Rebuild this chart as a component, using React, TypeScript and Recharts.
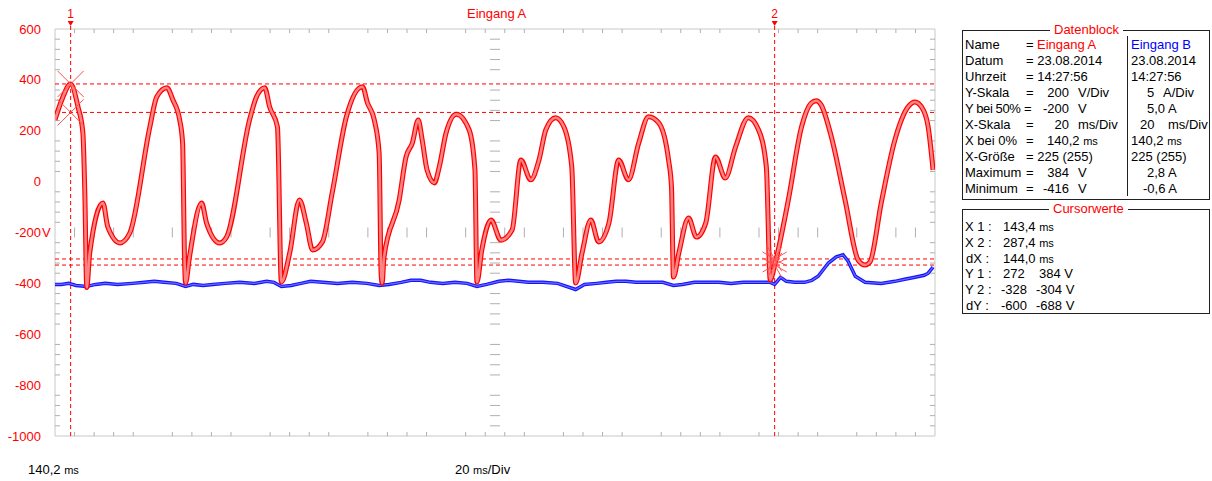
import React from "react";
import {
  ComposedChart,
  Line,
  XAxis,
  YAxis,
  CartesianGrid,
  ReferenceLine,
  ReferenceDot,
} from "recharts";

// axis ticks
const xTicks = [140.2, 160.2, 180.2, 200.2, 220.2, 240.2, 260.2, 280.2, 300.2, 320.2];
const yTicks = [600, 400, 200, 0, -200, -400, -600, -800, -1000];

// Eingang A (V)
const redTime = [
  140.2, 141.6, 143.4, 144.9, 145.9, 146.3, 146.7, 147.3, 150.0, 151.0, 153.5, 155.5,
  159.6, 161.0, 163.1, 164.3, 165.7, 166.3, 166.7, 166.9, 167.7, 170.2, 171.2, 173.9,
  175.3, 180.0, 181.4, 183.1, 184.1, 185.7, 186.5, 188.2, 190.2, 191.6, 192.9, 194.9,
  196.9, 199.8, 203.1, 204.1, 205.5, 206.5, 206.9, 207.1, 207.5, 210.6, 212.0, 213.3,
  214.5, 215.3, 216.3, 217.8, 218.8, 220.2, 222.3, 224.9, 226.1, 226.5, 227.5, 229.4,
  231.4, 233.7, 235.5, 237.5, 239.2, 240.6, 242.6, 244.3, 245.9, 246.7, 248.0, 249.8,
  251.4, 253.5, 255.5, 257.5, 259.6, 261.6, 263.7, 265.7, 266.3, 266.7, 267.8, 269.8,
  271.4, 273.3, 275.3, 277.3, 279.4, 282.0, 284.1, 285.7, 286.5, 287.4, 290.2, 292.9,
  294.9, 295.9, 296.9, 299.0, 301.8, 304.5, 305.9, 306.9, 309.2, 312.0, 314.7, 316.1,
  317.8, 318.8, 319.8,
];
const redVolt = [
  243, 322, 384, 294, 192, -44, -416, -281, -84, -178, -241, -202,
  215, 333, 369, 322, 243, 152, -309, -399, -297, -84, -163, -241,
  -218, 243, 333, 369, 294, 215, -395, -281, -72, -163, -269, -237,
  -44, 255, 373, 310, 243, 113, -359, -399, -297, -72, 97, 152,
  242, 164, 46, -5, 58, 192, 265, 204, 46, -395, -269, -151,
  -230, -190, 85, 7, 85, 204, 251, 215, 58, -399, -281, -151,
  -237, -163, 85, 7, 152, 255, 231, 85, -21, -375, -281, -143,
  -218, -163, 97, 14, 136, 251, 204, 58, -387, -328, -72, 215,
  309, 318, 302, 176, -72, -309, -328, -316, -84, 164, 294, 313,
  282, 215, 46,
];

// Eingang B (A)
const blueTime = [
  140.2, 141.5, 143.0, 144.5, 146.7, 148.5, 150.5, 153.0, 156.0, 158.5, 160.5, 162.5,
  165.0, 166.9, 168.5, 170.5, 172.5, 175.0, 178.0, 181.0, 183.5, 185.0, 186.5, 188.5,
  190.5, 192.5, 195.0, 198.0, 201.0, 204.0, 206.5, 208.5, 211.0, 213.0, 215.0, 217.0,
  219.5, 222.0, 224.5, 226.5, 228.5, 231.0, 233.0, 235.0, 237.0, 240.0, 243.0, 246.7,
  248.5, 251.0, 253.0, 255.0, 257.0, 259.0, 262.0, 264.5, 266.7, 268.5, 271.0, 273.5,
  276.0, 278.5, 281.0, 284.0, 286.5, 287.4, 288.6, 289.8, 291.5, 293.5, 295.0, 296.3,
  298.4, 300.0, 301.4, 302.4, 303.9, 305.9, 309.2, 312.0, 314.0, 316.1, 318.0, 318.8,
  319.8,
];
const blueAmp = [
  -0.1, -0.1, 0.0, -0.2, -0.3, -0.1, 0.0, -0.1, 0.0, 0.1, 0.2, 0.1,
  0.0, -0.3, -0.1, -0.2, -0.1, 0.0, 0.1, 0.0, 0.2, 0.1, -0.3, -0.2,
  0.0, 0.2, 0.1, 0.0, 0.1, 0.0, -0.2, -0.1, 0.1, 0.3, 0.3, 0.1,
  0.0, 0.1, 0.0, -0.3, -0.1, 0.2, 0.3, 0.2, 0.1, 0.1, 0.0, -0.6,
  -0.1, 0.0, 0.1, 0.2, 0.2, 0.1, 0.1, 0.1, -0.2, -0.1, 0.1, 0.1,
  0.1, 0.0, 0.1, 0.1, 0.1, -0.1, 0.6, 0.2, 0.1, 0.1, 0.3, 0.7,
  2.0, 2.6, 2.8, 2.2, 0.7, 0.1, 0.0, 0.2, 0.4, 0.6, 0.8, 1.0,
  1.6,
];

// cursors
const cursorTimes = [143.4, 287.4];
const cursor1Levels = [384, 272];
const cursor2Levels = [-304, -328];

const redData = redTime.map((t, i) => ({ t, v: redVolt[i] }));
const blueData = blueTime.map((t, i) => ({ t, a: blueAmp[i] }));

// minor tick marks (1/5 division)
const pxX = 20 / 98;
const pxY = 200 / 50.8;
const minorX: number[] = [];
for (let i = 1; i < 45; i++) if (i % 5 !== 0) minorX.push(140.2 + i * 4);
const minorY: number[] = [];
for (let i = 1; i < 40; i++) if (i % 5 !== 0) minorY.push(-1000 + i * 40);
type Seg = [number, number, number, number];
const segs: Seg[] = [
  ...minorX.map((t) => [t, 600, t, 600 - 4 * pxY] as Seg),
  ...minorX.map((t) => [t, -1000, t, -1000 + 4 * pxY] as Seg),
  ...minorX.map((t) => [t, -200 - 5 * pxY, t, -200 + 5 * pxY] as Seg),
  ...minorY.map((v) => [140.2, v, 140.2 + 5 * pxX, v] as Seg),
  ...minorY.map((v) => [320.2 - 5 * pxX, v, 320.2, v] as Seg),
  ...minorY.map((v) => [230.2 - 5 * pxX, v, 230.2 + 5 * pxX, v] as Seg),
];

const RED = "#ff0000";
const FONT = "'Liberation Sans', Arial, sans-serif";

const YTick = (props: any) => {
  const { x, y, payload } = props;
  return (
    <g>
      <text x={x} y={y} dy="0.35em" textAnchor="end" fill={RED} fontSize={13} fontFamily={FONT}>
        {payload.value}
      </text>
      {payload.value === -200 && (
        <text x={x + 1} y={y} dy="0.35em" fill={RED} fontSize={13} fontFamily={FONT}>
          V
        </text>
      )}
    </g>
  );
};

// number + arrow above a vertical cursor
const cursorLabel = (n: string) => (props: any) => {
  const vb = props.viewBox || {};
  const x = vb.x;
  const y = vb.y;
  return (
    <g>
      <text x={x} y={y - 11} textAnchor="middle" fill={RED} fontSize={12} fontFamily={FONT}>
        {n}
      </text>
      <path d={`M${x - 3},${y - 8} L${x + 3},${y - 8} L${x},${y - 3} Z`} fill={RED} />
      <line x1={x} x2={x} y1={y - 3} y2={y} stroke={RED} />
    </g>
  );
};

const StarX = (props: any) => {
  const { cx, cy } = props;
  const d = 13;
  return (
    <g stroke="#ff5050" strokeWidth={1} fill="none">
      <line x1={cx - d} y1={cy - d} x2={cx + d} y2={cy + d} />
      <line x1={cx + d} y1={cy - d} x2={cx - d} y2={cy + d} />
    </g>
  );
};

const StarBurst = (props: any) => {
  const { cx, cy } = props;
  const r = 14;
  const angles = [30, 60, 120, 150, 210, 240, 300, 330];
  return (
    <g stroke="#ff5050" strokeWidth={1}>
      {angles.map((a) => (
        <line
          key={a}
          x1={cx}
          y1={cy}
          x2={cx + r * Math.cos((a * Math.PI) / 180)}
          y2={cy + r * Math.sin((a * Math.PI) / 180)}
        />
      ))}
    </g>
  );
};

const Txt = ({
  x,
  y,
  children,
  color = "#000",
  end = false,
  tight = false,
}: {
  x: number;
  y: number;
  children: React.ReactNode;
  color?: string;
  end?: boolean;
  tight?: boolean;
}) => (
  <div
    style={{
      position: "absolute",
      left: end ? undefined : x,
      right: end ? 1212 - x : undefined,
      top: y - 8,
      lineHeight: "16px",
      fontSize: 13,
      letterSpacing: tight ? -0.4 : undefined,
      color,
      whiteSpace: "nowrap",
    }}
  >
    {children}
  </div>
);

const Ms = () => <span style={{ fontSize: 11 }}>ms</span>;

const rowY = (i: number) => 45 + i * 16;
const cRowY = (i: number) => 227 + i * 15.8;

export default function App() {
  return (
    <div
      style={{
        position: "absolute",
        left: 0,
        top: 0,
        width: 1212,
        height: 481,
        background: "#fff",
        fontFamily: FONT,
        overflow: "hidden",
      }}
    >
      <div style={{ position: "absolute", left: 0, top: 0 }}>
        <ComposedChart
          width={948}
          height={481}
          margin={{ top: 29, right: 13, bottom: 44, left: 0 }}
        >
          <CartesianGrid stroke="#c8c8c8" strokeWidth={1} />
          <XAxis
            xAxisId={0}
            dataKey="t"
            type="number"
            domain={[140.2, 320.2]}
            ticks={xTicks}
            interval={0}
            allowDataOverflow
            tick={false}
            tickLine={false}
            axisLine={false}
            height={1}
          />
          <YAxis
            yAxisId="A"
            type="number"
            domain={[-1000, 600]}
            ticks={yTicks}
            interval={0}
            allowDataOverflow
            width={55}
            axisLine={false}
            tickLine={false}
            tickSize={0}
            tickMargin={14}
            tick={<YTick />}
          />
          <YAxis yAxisId="B" type="number" domain={[-15, 25]} allowDataOverflow hide />

          {segs.map((s, i) => (
            <ReferenceLine
              key={`s${i}`}
              yAxisId="A"
              segment={[
                { x: s[0], y: s[1] },
                { x: s[2], y: s[3] },
              ]}
              stroke="#b0b0b0"
              strokeWidth={1}
              ifOverflow="visible"
            />
          ))}

          {cursor1Levels.concat(cursor2Levels).map((v) => (
            <ReferenceLine
              key={`h${v}`}
              yAxisId="A"
              y={v}
              stroke={RED}
              strokeDasharray="4 3"
              strokeWidth={1}
            />
          ))}
          {cursorTimes.map((t, i) => (
            <ReferenceLine
              key={`c${i}`}
              yAxisId="A"
              x={t}
              stroke={RED}
              strokeDasharray="4 3"
              strokeWidth={1}
              label={cursorLabel(String(i + 1))}
            />
          ))}

          <Line
            yAxisId="B"
            data={blueData}
            dataKey="a"
            type="linear"
            stroke="#1414ff"
            strokeWidth={3.5}
            dot={false}
            activeDot={false}
            isAnimationActive={false}
          />
          <Line
            yAxisId="B"
            data={blueData}
            dataKey="a"
            type="linear"
            stroke="#6a6aff"
            strokeWidth={1.2}
            dot={false}
            activeDot={false}
            isAnimationActive={false}
          />
          <Line
            yAxisId="A"
            data={redData}
            dataKey="v"
            type="monotone"
            stroke={RED}
            strokeWidth={5}
            dot={false}
            activeDot={false}
            isAnimationActive={false}
          />
          <Line
            yAxisId="A"
            data={redData}
            dataKey="v"
            type="monotone"
            stroke="#ff8484"
            strokeWidth={2.6}
            dot={false}
            activeDot={false}
            isAnimationActive={false}
          />

          {cursor1Levels.map((v) => (
            <ReferenceDot
              key={`d1${v}`}
              yAxisId="A"
              x={cursorTimes[0]}
              y={v}
              r={10}
              ifOverflow="visible"
              shape={<StarX />}
            />
          ))}
          {cursor2Levels.map((v) => (
            <ReferenceDot
              key={`d2${v}`}
              yAxisId="A"
              x={cursorTimes[1]}
              y={v}
              r={10}
              ifOverflow="visible"
              shape={<StarBurst />}
            />
          ))}
        </ComposedChart>
      </div>

      {/* title */}
      <Txt x={467} y={14} color={RED}>
        Eingang A
      </Txt>

      {/* bottom labels */}
      <Txt x={28} y={470}>
        140,2 <Ms />
      </Txt>
      <Txt x={455} y={470}>
        20 <Ms />/Div
      </Txt>

      {/* Datenblock */}
      <div
        style={{
          position: "absolute",
          left: 962,
          top: 30,
          width: 246,
          height: 168,
          border: "1px solid #202020",
        }}
      />
      <div
        style={{
          position: "absolute",
          left: 1127,
          top: 36,
          width: 1,
          height: 160,
          background: "#202020",
        }}
      />
      <Txt x={1050} y={30} color={RED}>
        <span style={{ background: "#fff", padding: "0 4px" }}>Datenblock</span>
      </Txt>

      <Txt x={965} y={rowY(0)}>Name</Txt>
      <Txt x={1026} y={rowY(0)}>=</Txt>
      <Txt x={1037} y={rowY(0)} color={RED}>Eingang A</Txt>
      <Txt x={1131} y={rowY(0)} color="#0000ff">Eingang B</Txt>

      <Txt x={965} y={rowY(1)}>Datum</Txt>
      <Txt x={1026} y={rowY(1)}>= 23.08.2014</Txt>
      <Txt x={1131} y={rowY(1)}>23.08.2014</Txt>

      <Txt x={965} y={rowY(2)}>Uhrzeit</Txt>
      <Txt x={1026} y={rowY(2)}>= 14:27:56</Txt>
      <Txt x={1131} y={rowY(2)}>14:27:56</Txt>

      <Txt x={965} y={rowY(3)}>Y-Skala</Txt>
      <Txt x={1026} y={rowY(3)}>=</Txt>
      <Txt x={1069} y={rowY(3)} end>200</Txt>
      <Txt x={1078} y={rowY(3)}>V/Div</Txt>
      <Txt x={1147} y={rowY(3)}>5</Txt>
      <Txt x={1163} y={rowY(3)}>A/Div</Txt>

      <Txt x={965} y={rowY(4)} tight>Y bei 50%</Txt>
      <Txt x={1024} y={rowY(4)}>=</Txt>
      <Txt x={1069} y={rowY(4)} end>-200</Txt>
      <Txt x={1078} y={rowY(4)}>V</Txt>
      <Txt x={1147} y={rowY(4)}>5,0 A</Txt>

      <Txt x={965} y={rowY(5)}>X-Skala</Txt>
      <Txt x={1026} y={rowY(5)}>=</Txt>
      <Txt x={1069} y={rowY(5)} end>20</Txt>
      <Txt x={1078} y={rowY(5)}>ms/Div</Txt>
      <Txt x={1140} y={rowY(5)}>20</Txt>
      <Txt x={1168} y={rowY(5)}>ms/Div</Txt>

      <Txt x={965} y={rowY(6)}>X bei 0%</Txt>
      <Txt x={1026} y={rowY(6)}>=</Txt>
      <Txt x={1047} y={rowY(6)}>
        140,2 <Ms />
      </Txt>
      <Txt x={1131} y={rowY(6)}>
        140,2 <Ms />
      </Txt>

      <Txt x={965} y={rowY(7)}>X-Größe</Txt>
      <Txt x={1026} y={rowY(7)}>= 225 (255)</Txt>
      <Txt x={1131} y={rowY(7)}>225 (255)</Txt>

      <Txt x={965} y={rowY(8)}>Maximum</Txt>
      <Txt x={1026} y={rowY(8)}>=</Txt>
      <Txt x={1069} y={rowY(8)} end>384</Txt>
      <Txt x={1078} y={rowY(8)}>V</Txt>
      <Txt x={1147} y={rowY(8)}>2,8 A</Txt>

      <Txt x={965} y={rowY(9)}>Minimum</Txt>
      <Txt x={1026} y={rowY(9)}>=</Txt>
      <Txt x={1069} y={rowY(9)} end>-416</Txt>
      <Txt x={1078} y={rowY(9)}>V</Txt>
      <Txt x={1143} y={rowY(9)}>-0,6 A</Txt>

      {/* Cursorwerte */}
      <div
        style={{
          position: "absolute",
          left: 962,
          top: 209,
          width: 246,
          height: 103,
          border: "1px solid #202020",
        }}
      />
      <Txt x={1049} y={209} color={RED}>
        <span style={{ background: "#fff", padding: "0 4px" }}>Cursorwerte</span>
      </Txt>

      <Txt x={965} y={cRowY(0)}>X 1 :</Txt>
      <Txt x={1003} y={cRowY(0)}>
        143,4 <Ms />
      </Txt>
      <Txt x={965} y={cRowY(1)}>X 2 :</Txt>
      <Txt x={1003} y={cRowY(1)}>
        287,4 <Ms />
      </Txt>
      <Txt x={966} y={cRowY(2)}>dX :</Txt>
      <Txt x={1003} y={cRowY(2)}>
        144,0 <Ms />
      </Txt>
      <Txt x={965} y={cRowY(3)}>Y 1 :</Txt>
      <Txt x={1003} y={cRowY(3)}>272</Txt>
      <Txt x={1039} y={cRowY(3)}>384 V</Txt>
      <Txt x={965} y={cRowY(4)}>Y 2 :</Txt>
      <Txt x={1001} y={cRowY(4)}>-328</Txt>
      <Txt x={1036} y={cRowY(4)}>-304 V</Txt>
      <Txt x={966} y={cRowY(5)}>dY :</Txt>
      <Txt x={1001} y={cRowY(5)}>-600</Txt>
      <Txt x={1036} y={cRowY(5)}>-688 V</Txt>
    </div>
  );
}
